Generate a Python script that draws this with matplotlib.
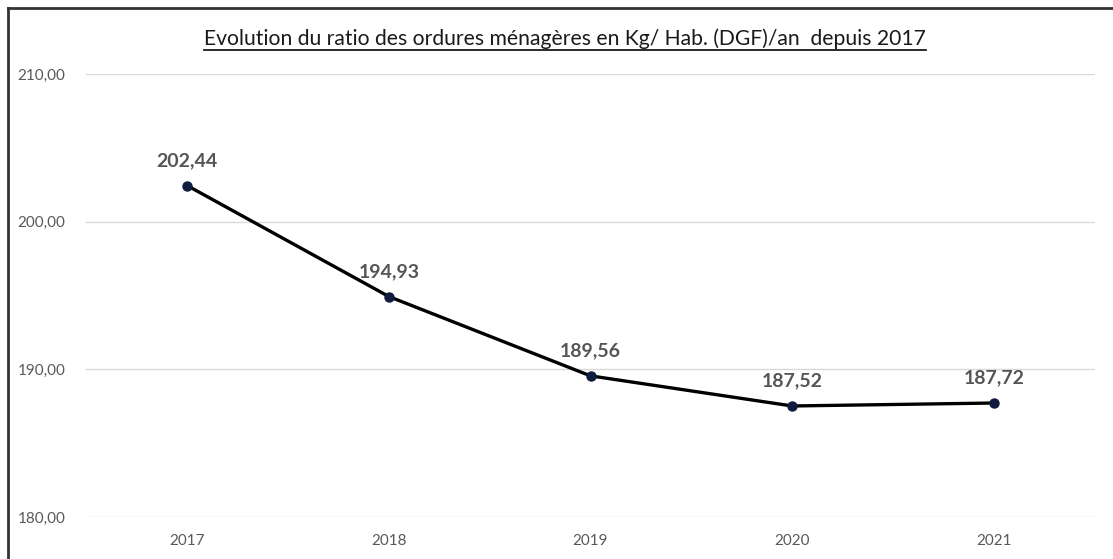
import matplotlib
matplotlib.use("Agg")
import matplotlib.pyplot as plt
from matplotlib.lines import Line2D
from matplotlib.ticker import FuncFormatter

# data
years = ["2017", "2018", "2019", "2020", "2021"]
ratio = [202.44, 194.93, 189.56, 187.52, 187.72]
y_ticks = [180, 190, 200, 210]

title = "Evolution du ratio des ordures ménagères en Kg/ Hab. (DGF)/an  depuis 2017"

plt.rcParams["font.family"] = ["Lato", "DejaVu Sans"]


def fr_num(v, pos=None):
    return f"{v:.2f}".replace(".", ",")


fig = plt.figure(figsize=(11.13, 5.59), dpi=100)
ax = fig.add_axes([0.0777, 0.0751, 0.9057, 0.7925])

x = list(range(len(years)))
ax.plot(x, ratio, color="black", lw=2.4, marker="o", markersize=6.5,
        markerfacecolor="#0f1c3f", markeredgecolor="#0f1c3f", zorder=3)

for xi, v in zip(x, ratio):
    ax.annotate(fr_num(v), (xi, v), xytext=(0, 12), textcoords="offset points",
                ha="center", va="bottom", fontsize=14, fontweight="bold",
                color="#555555")

ax.set_xlim(-0.5, len(years) - 0.5)
ax.set_ylim(180, 210)
ax.set_xticks(x)
ax.set_xticklabels(years)
ax.set_yticks(y_ticks)
ax.yaxis.set_major_formatter(FuncFormatter(fr_num))
ax.tick_params(length=0, labelsize=11, labelcolor="#595959")
ax.tick_params(axis="y", pad=15)
ax.tick_params(axis="x", pad=12)
ax.grid(axis="y", color="#d9d9d9", lw=1)
ax.set_axisbelow(True)
for s in ax.spines.values():
    s.set_visible(False)

t = fig.text(0.508, 0.93, title, ha="center", va="center", fontsize=15.2,
             color="#1a1a1a")

# underline the title
fig.canvas.draw()
bb = t.get_window_extent()
W, H = fig.bbox.width, fig.bbox.height
uy = (bb.y0 - 1) / H
fig.add_artist(Line2D([bb.x0 / W, bb.x1 / W], [uy, uy], color="#1a1a1a", lw=1.3))

# outer frame (top and left edges visible)
fx, fy = 8 / W, 1 - 8 / H
fig.add_artist(Line2D([fx, 1], [fy, fy], color="#333333", lw=2))
fig.add_artist(Line2D([fx, fx], [0, fy], color="#333333", lw=2))

fig.savefig("out.png", dpi=100)
